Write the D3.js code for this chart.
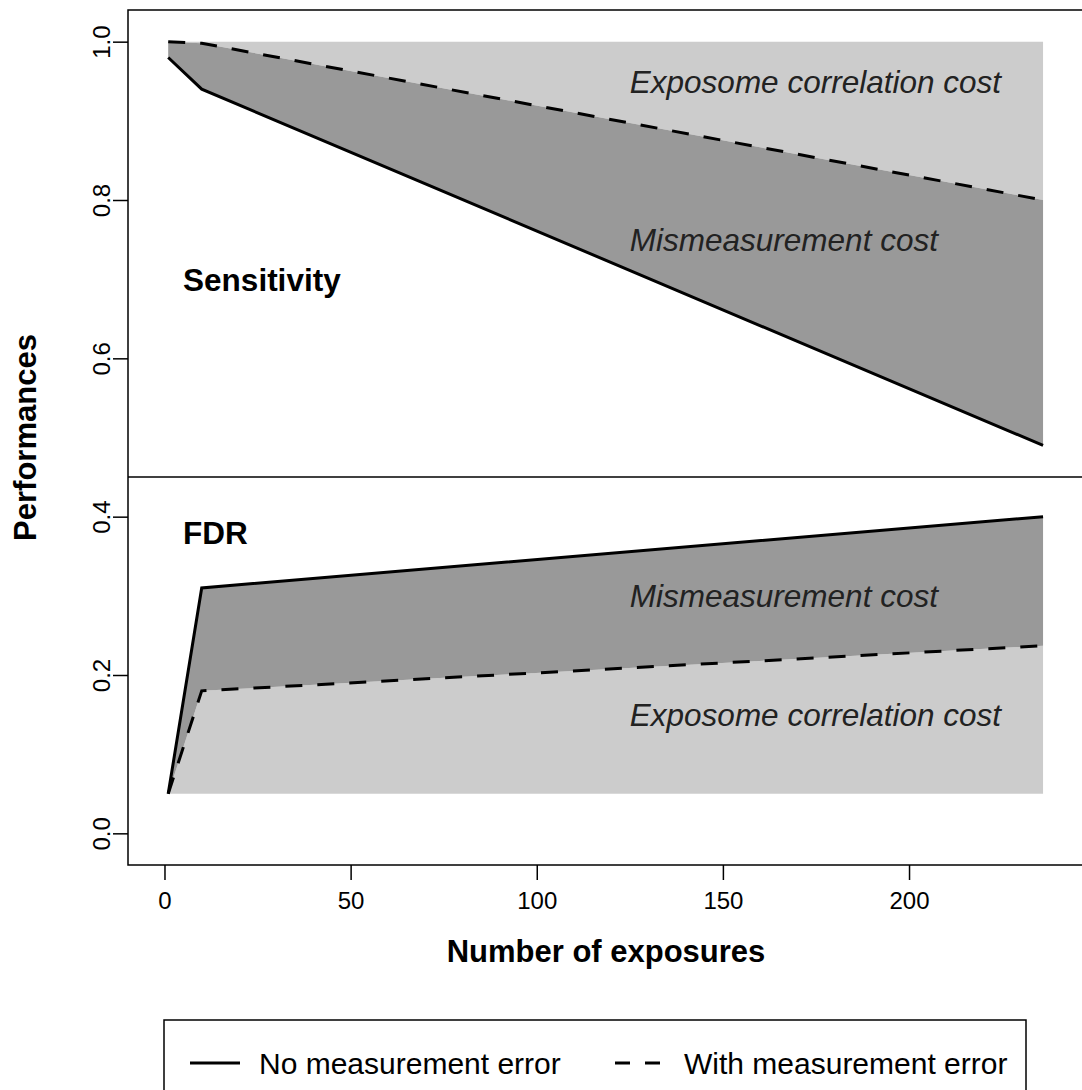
<!DOCTYPE html>
<html>
<head>
<meta charset="utf-8">
<script src="https://cdn.jsdelivr.net/npm/d3@7"></script>
<style>
  body { margin: 0; background: #fff; }
  svg { font-family: "Liberation Sans", Arial, sans-serif; }
</style>
</head>
<body>
<div id="chart"></div>
<script>

//************************  data *************************

var exposures   = [1, 10, 236];
var sensNoErr   = [0.98, 0.94, 0.49];
var sensWithErr = [1.0, 0.998, 0.80];
var fdrNoErr    = [0.05, 0.31, 0.40];
var fdrWithErr  = [0.05, 0.18, 0.237];

var sensCeiling = 1.0;
var fdrFloor = 0.05;
var divider = 0.45;

var xTicks = [0, 50, 100, 150, 200];
var yTicks = [0, 0.2, 0.4, 0.6, 0.8, 1.0];

var notes = [
    {text: "Exposome correlation cost", x: 125, y: 0.95, bold: false},
    {text: "Mismeasurement cost", x: 125, y: 0.75, bold: false},
    {text: "Sensitivity", x: 5, y: 0.70, bold: true},
    {text: "FDR", x: 5, y: 0.38, bold: true},
    {text: "Mismeasurement cost", x: 125, y: 0.30, bold: false},
    {text: "Exposome correlation cost", x: 125, y: 0.15, bold: false}
];

var legendItems = ["No measurement error", "With measurement error"];


//************************  chart *************************

var W = 1082, H = 1090;
var box = {left: 128, right: 1084, top: 10, bottom: 865};

var svg = d3.select("#chart").append("svg")
    .attr("width", W)
    .attr("height", H);

var x = d3.scaleLinear()
    .domain([-9.8, 247])
    .range([box.left, box.right]);

var y = d3.scaleLinear()
    .domain([-0.04, 1.04])
    .range([box.bottom, box.top]);

var light = "#cccccc", dark = "#999999";
var dash = "17,15";

function pts(vals) {
    return exposures.map(function(e, i){ return [e, vals[i]]; });
}

var area = d3.area()
    .x(function(d){ return x(d[0]); })
    .y0(function(d){ return y(d[1]); })
    .y1(function(d){ return y(d[2]); });

var line = d3.line()
    .x(function(d){ return x(d[0]); })
    .y(function(d){ return y(d[1]); });

// sensitivity fills
svg.append("path")
    .datum(exposures.map(function(e, i){ return [e, sensWithErr[i], sensCeiling]; }))
    .attr("d", area)
    .attr("fill", light);

svg.append("path")
    .datum(exposures.map(function(e, i){ return [e, sensNoErr[i], sensWithErr[i]]; }))
    .attr("d", area)
    .attr("fill", dark);

// fdr fills
svg.append("path")
    .datum(exposures.map(function(e, i){ return [e, fdrFloor, fdrWithErr[i]]; }))
    .attr("d", area)
    .attr("fill", light);

svg.append("path")
    .datum(exposures.map(function(e, i){ return [e, fdrWithErr[i], fdrNoErr[i]]; }))
    .attr("d", area)
    .attr("fill", dark);

// lines
[[sensNoErr, null], [sensWithErr, dash], [fdrNoErr, null], [fdrWithErr, dash]].forEach(function(s){
    svg.append("path")
        .datum(pts(s[0]))
        .attr("d", line)
        .attr("fill", "none")
        .attr("stroke", "#000")
        .attr("stroke-width", 3)
        .attr("stroke-dasharray", s[1]);
});

// divider
svg.append("line")
    .attr("x1", box.left).attr("x2", box.right)
    .attr("y1", y(divider)).attr("y2", y(divider))
    .attr("stroke", "#000")
    .attr("stroke-width", 1.5);

// annotations
svg.selectAll(".note")
    .data(notes)
    .enter().append("text")
    .attr("class", "note")
    .attr("x", function(d){ return x(d.x); })
    .attr("y", function(d){ return y(d.y); })
    .attr("dy", "0.36em")
    .attr("font-size", 31.5)
    .attr("font-style", function(d){ return d.bold ? "normal" : "italic"; })
    .attr("font-weight", function(d){ return d.bold ? "bold" : "normal"; })
    .attr("fill", function(d){ return d.bold ? "#000" : "#222"; })
    .text(function(d){ return d.text; });

// box
svg.append("rect")
    .attr("x", box.left).attr("y", box.top)
    .attr("width", box.right - box.left)
    .attr("height", box.bottom - box.top)
    .attr("fill", "none")
    .attr("stroke", "#000")
    .attr("stroke-width", 1.5);

// axes
var xAxis = d3.axisBottom(x)
    .tickValues(xTicks)
    .tickSize(15)
    .tickSizeOuter(0)
    .tickPadding(12);

var gx = svg.append("g")
    .attr("transform", "translate(0," + box.bottom + ")")
    .call(xAxis);
gx.select(".domain").remove();
gx.selectAll("line").attr("stroke-width", 1.5);
gx.selectAll("text")
    .attr("font-size", 24)
    .attr("font-family", "Liberation Sans, Arial, sans-serif")
    .attr("fill", "#000");

var yAxis = d3.axisLeft(y)
    .tickValues(yTicks)
    .tickFormat(d3.format(".1f"))
    .tickSize(15)
    .tickSizeOuter(0);

var gy = svg.append("g")
    .attr("transform", "translate(" + box.left + ",0)")
    .call(yAxis);
gy.select(".domain").remove();
gy.selectAll("line").attr("stroke-width", 1.5);
gy.selectAll("text")
    .attr("x", null)
    .attr("dy", null)
    .attr("text-anchor", "middle")
    .attr("transform", "translate(-18,0) rotate(-90)")
    .attr("font-size", 24)
    .attr("font-family", "Liberation Sans, Arial, sans-serif")
    .attr("fill", "#000");

// axis titles
svg.append("text")
    .attr("x", (box.left + box.right) / 2)
    .attr("y", 962)
    .attr("text-anchor", "middle")
    .attr("font-size", 31)
    .attr("font-weight", "bold")
    .text("Number of exposures");

svg.append("text")
    .attr("transform", "translate(36," + (box.top + box.bottom) / 2 + ") rotate(-90)")
    .attr("text-anchor", "middle")
    .attr("font-size", 31)
    .attr("font-weight", "bold")
    .text("Performances");

// legend
var lg = svg.append("g");
lg.append("rect")
    .attr("x", 164).attr("y", 1020)
    .attr("width", 862).attr("height", 90)
    .attr("fill", "#fff")
    .attr("stroke", "#000")
    .attr("stroke-width", 1.5);

var legendX = [190, 615];
legendItems.forEach(function(label, i){
    lg.append("line")
        .attr("x1", legendX[i]).attr("x2", legendX[i] + 50)
        .attr("y1", 1063).attr("y2", 1063)
        .attr("stroke", "#000")
        .attr("stroke-width", 3)
        .attr("stroke-dasharray", i === 0 ? null : "15,15");
    lg.append("text")
        .attr("x", legendX[i] + 69)
        .attr("y", 1063)
        .attr("dy", "0.36em")
        .attr("font-size", 30)
        .text(label);
});

</script>
</body>
</html>
